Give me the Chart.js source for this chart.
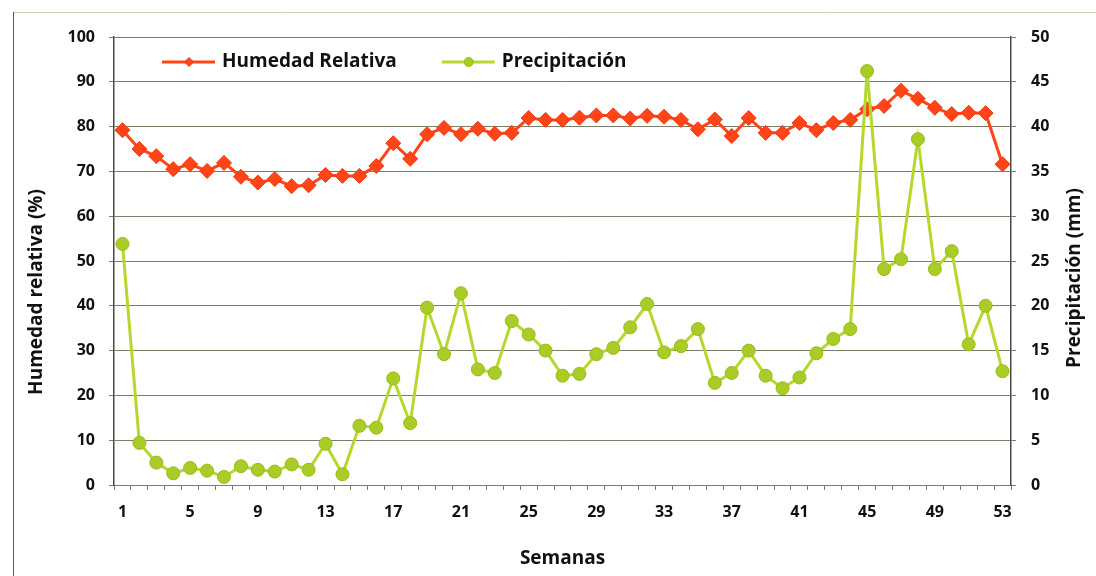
<!DOCTYPE html>
<html>
<head>
<meta charset="utf-8">
<script src="https://cdn.jsdelivr.net/npm/chart.js@4/dist/chart.umd.min.js"></script>
<style>
    html, body { margin: 0; padding: 0; background: #ffffff; }
    #wrap { width: 1096px; height: 576px; position: relative; }
</style>
</head>
<body>
<div id="wrap"><canvas id="climaChart"></canvas></div>
<script>
const weeks = [1, 2, 3, 4, 5, 6, 7, 8, 9, 10, 11, 12, 13, 14, 15, 16, 17, 18, 19, 20,
    21, 22, 23, 24, 25, 26, 27, 28, 29, 30, 31, 32, 33, 34, 35, 36, 37, 38, 39, 40,
    41, 42, 43, 44, 45, 46, 47, 48, 49, 50, 51, 52, 53];
const tickWeeks = [1, 5, 9, 13, 17, 21, 25, 29, 33, 37, 41, 45, 49, 53];

const humedad = [79.2, 75, 73.4, 70.5, 71.6, 70.1, 71.9, 68.8, 67.5, 68.3,
    66.7, 66.9, 69.2, 69, 69, 71.2, 76.3, 72.8, 78.3, 79.7,
    78.3, 79.5, 78.4, 78.6, 81.9, 81.5, 81.5, 82, 82.5, 82.5,
    81.8, 82.4, 82.2, 81.5, 79.4, 81.6, 77.9, 81.9, 78.6, 78.6,
    80.8, 79.2, 80.8, 81.5, 83.9, 84.6, 88, 86.2, 84.2, 82.8,
    83.1, 83, 71.6];

const precipitacion = [26.9, 4.7, 2.5, 1.3, 1.9, 1.6, 0.9, 2.1, 1.7, 1.5,
    2.3, 1.7, 4.6, 1.2, 6.6, 6.4, 11.9, 6.9, 19.8, 14.6,
    21.4, 12.9, 12.5, 18.3, 16.8, 15, 12.2, 12.4, 14.6, 15.3,
    17.6, 20.2, 14.8, 15.5, 17.4, 11.4, 12.5, 15, 12.2, 10.8,
    12, 14.7, 16.3, 17.4, 46.2, 24.1, 25.2, 38.6, 24.1, 26.1,
    15.7, 20, 12.7];

const leftTitle = "Humedad relativa (%)";
const rightTitle = "Precipitación (mm)";
const xTitle = "Semanas";

document.addEventListener("DOMContentLoaded", function () {
    let ctx = document.getElementById("climaChart").getContext("2d");
    const gridColor = "#7c7c6a";
    const axisColor = "#4a4a42";
    const fontFamily = "'Open Sans', sans-serif";

    // frame, axis titles and the legend drawn inside the plot area
    const extras = {
        id: "extras",
        beforeDraw(chart) {
            const c = chart.ctx;
            c.save();
            c.fillStyle = "#ffffff";
            c.fillRect(0, 0, chart.width, chart.height);
            c.strokeStyle = "#cfcfb8";
            c.lineWidth = 1;
            c.beginPath();
            c.moveTo(13, 12.5);
            c.lineTo(chart.width, 12.5);
            c.stroke();
            c.strokeStyle = "#5a5a50";
            c.beginPath();
            c.moveTo(13.5, 12);
            c.lineTo(13.5, chart.height);
            c.stroke();
            c.restore();
        },
        afterDraw(chart) {
            const c = chart.ctx;
            const area = chart.chartArea;
            c.save();
            c.fillStyle = "#111111";
            c.font = "bold 19px " + fontFamily;
            c.textAlign = "center";
            c.textBaseline = "middle";
            c.translate(37, 292);
            c.rotate(-Math.PI / 2);
            c.fillText(leftTitle, 0, 0);
            c.restore();

            c.save();
            c.fillStyle = "#111111";
            c.font = "bold 19px " + fontFamily;
            c.textAlign = "center";
            c.textBaseline = "middle";
            c.translate(1075, 278);
            c.rotate(-Math.PI / 2);
            c.fillText(rightTitle, 0, 0);
            c.restore();

            c.save();
            c.font = "bold 19px " + fontFamily;
            c.textBaseline = "middle";
            let x = area.left + 48;
            const y = area.top + 25;
            chart.data.datasets.forEach(function (ds) {
                c.strokeStyle = ds.borderColor;
                c.lineWidth = 3;
                c.beginPath();
                c.moveTo(x, y);
                c.lineTo(x + 53, y);
                c.stroke();
                c.fillStyle = ds.pointBackgroundColor;
                c.strokeStyle = ds.pointBorderColor;
                c.lineWidth = 1;
                Chart.helpers.drawPoint(c, { pointStyle: ds.pointStyle, radius: 4.5, borderWidth: 1 }, x + 27, y);
                c.fillStyle = "#111111";
                c.fillText(ds.label, x + 60, y);
                x += 60 + c.measureText(ds.label).width + 45;
            });
            c.restore();
        }
    };

    let climaChart = new Chart(ctx, {
        type: "line",
        data: {
            labels: weeks,
            datasets: [{
                label: "Humedad Relativa",
                data: humedad,
                yAxisID: "y",
                borderColor: "#ff4518",
                backgroundColor: "#ff4518",
                pointBackgroundColor: "#ff4518",
                pointBorderColor: "#f03a0e",
                pointStyle: "rectRot",
                pointRadius: 7.5,
                pointBorderWidth: 1,
                borderWidth: 3,
                tension: 0,
                order: 2
            }, {
                label: "Precipitación",
                data: precipitacion,
                yAxisID: "y1",
                borderColor: "#b6d82c",
                backgroundColor: "#b6d82c",
                pointBackgroundColor: "#a9cc26",
                pointBorderColor: "#98bd18",
                pointStyle: "circle",
                pointRadius: 6.5,
                pointBorderWidth: 1,
                borderWidth: 3,
                tension: 0,
                order: 1
            }]
        },
        options: {
            responsive: true,
            maintainAspectRatio: false,
            animation: false,
            layout: { padding: { top: 37, left: 0, right: 0, bottom: 0 } },
            plugins: {
                legend: { display: false },
                tooltip: { enabled: false }
            },
            scales: {
                x: {
                    offset: true,
                    afterFit: function (scale) { scale.height = 91; },
                    grid: { offset: true, drawOnChartArea: false, drawTicks: true, tickLength: 5, color: gridColor },
                    border: { color: gridColor },
                    ticks: {
                        autoSkip: false,
                        maxRotation: 0,
                        padding: 13,
                        color: "#111111",
                        font: { family: fontFamily, size: 16, weight: "bold" },
                        callback: function (val) {
                            const w = weeks[val];
                            return tickWeeks.includes(w) ? String(w) : "";
                        }
                    },
                    title: {
                        display: true,
                        text: xTitle,
                        color: "#111111",
                        font: { family: fontFamily, size: 19, weight: "bold" },
                        padding: { top: 0, bottom: 6 }
                    }
                },
                y: {
                    position: "left",
                    min: 0,
                    max: 100,
                    afterFit: function (scale) { scale.width = 114; },
                    grid: { color: gridColor, tickLength: 5 },
                    border: { color: axisColor, width: 1.5 },
                    ticks: {
                        stepSize: 10,
                        padding: 14,
                        color: "#111111",
                        font: { family: fontFamily, size: 16, weight: "bold" }
                    }
                },
                y1: {
                    position: "right",
                    min: 0,
                    max: 50,
                    afterFit: function (scale) { scale.width = 85; },
                    grid: { drawOnChartArea: false, color: gridColor, tickLength: 5 },
                    border: { color: axisColor, width: 1.5 },
                    ticks: {
                        stepSize: 5,
                        padding: 15,
                        color: "#111111",
                        font: { family: fontFamily, size: 16, weight: "bold" }
                    }
                }
            }
        },
        plugins: [extras]
    });
});
</script>
</body>
</html>
